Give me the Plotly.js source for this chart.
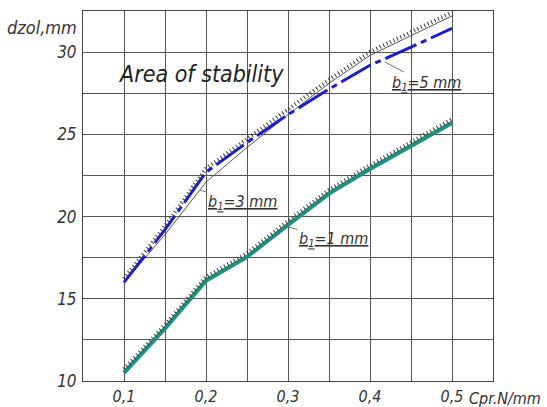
<!DOCTYPE html>
<html>
<head>
<meta charset="utf-8">
<script src="https://cdn.plot.ly/plotly-3.0.1.min.js"></script>
<style>html,body{margin:0;padding:0;background:#fff;}#chart{width:547px;height:407px;}</style>
</head>
<body>
<div id="chart"></div>
<script>
// Data
const cpr = [0.1, 0.15, 0.2, 0.25, 0.3, 0.35, 0.4, 0.45, 0.5];
const dzolB5 = [16.0, 19.2, 22.7, 24.5, 26.2, 27.75, 29.2, 30.3, 31.45];   // b1=5 mm (blue)
const dzolB3 = [16.0, 18.9, 22.1, 24.2, 26.2, 28.1, 29.8, 31.0, 32.2];     // b1=3 mm (thin)
const dzolB1 = [10.5, 13.2, 16.1, 17.55, 19.5, 21.4, 22.9, 24.3, 25.7];    // b1=1 mm (teal)
const upperBoundary = [16.0, 19.2, 22.7, 24.5, 26.3, 28.1, 29.8, 31.0, 32.2];
const xTickVals = [0.1, 0.2, 0.3, 0.4, 0.5];
const yTickVals = [10, 15, 20, 25, 30];

const FONT = "DejaVu Sans Condensed, Liberation Sans Narrow, sans-serif";
const TXT = '#333333';
const yRange = [10, 32.5];
const pxPerUnit = 370 / (yRange[1] - yRange[0]);
const hatchShift = 3.6 / pxPerUnit;

const hatchStyle = {color: '#3a3a3a', width: 4, dash: '1px,2.8px'};

const traces = [
  {x: cpr, y: dzolB3, mode: 'lines', line: {color: '#444', width: 0.9}, hoverinfo: 'skip', name: 'b1=3 mm'},
  {x: cpr, y: dzolB5, mode: 'lines', line: {color: '#1c1cd0', width: 3, dash: '34px,5px,6px,5px'}, hoverinfo: 'skip', name: 'b1=5 mm'},
  {x: cpr, y: dzolB1, mode: 'lines', line: {color: '#1f8f80', width: 4.2}, hoverinfo: 'skip', name: 'b1=1 mm'},
  {x: cpr, y: upperBoundary, yaxis: 'y2', mode: 'lines', line: hatchStyle, hoverinfo: 'skip'},
  {x: cpr, y: dzolB1, yaxis: 'y2', mode: 'lines', line: hatchStyle, hoverinfo: 'skip'}
];

const labelFont = {family: FONT, size: 16, color: TXT, style: 'italic'};

const layout = {
  width: 547, height: 407,
  margin: {l: 83, r: 54, t: 11, b: 26},
  paper_bgcolor: '#fff', plot_bgcolor: '#fff',
  showlegend: false,
  separators: ', ',
  font: {family: FONT, color: TXT, style: 'italic'},
  xaxis: {
    range: [0.05, 0.55], tickvals: xTickVals, tickformat: '.1f',
    showgrid: true, gridcolor: '#555', gridwidth: 1,
    minor: {dtick: 0.05, tick0: 0.05, showgrid: true, gridcolor: '#555', gridwidth: 1},
    showline: true, linecolor: '#444', linewidth: 1, mirror: true,
    ticks: '', ticklabelstandoff: 1,
    tickfont: {family: FONT, size: 16, color: TXT, style: 'italic'},
    zeroline: false, fixedrange: true
  },
  yaxis: {
    range: yRange, tickvals: yTickVals,
    showgrid: true, gridcolor: '#555', gridwidth: 1,
    minor: {dtick: 2.5, tick0: 10, showgrid: true, gridcolor: '#555', gridwidth: 1},
    showline: true, linecolor: '#444', linewidth: 1, mirror: true,
    ticks: '', ticklabelstandoff: 2,
    tickfont: {family: FONT, size: 17, color: TXT, style: 'italic'},
    zeroline: false, fixedrange: true
  },
  yaxis2: {
    overlaying: 'y', range: [yRange[0] - hatchShift, yRange[1] - hatchShift],
    visible: false, showgrid: false, zeroline: false, fixedrange: true
  },
  annotations: [
    {xref: 'paper', yref: 'paper', x: -0.19, y: 0.955, xanchor: 'left', yanchor: 'middle',
     text: 'dzol,mm', showarrow: false, font: {family: FONT, size: 18, color: TXT, style: 'italic'}},
    {xref: 'paper', yref: 'paper', x: 0.937, y: -0.046, xanchor: 'left', yanchor: 'middle',
     text: 'Cpr.N/mm', showarrow: false, font: {family: FONT, size: 16, color: TXT, style: 'italic'}},
    {xref: 'paper', yref: 'paper', x: 0.08, y: 0.83, xanchor: 'left', yanchor: 'middle',
     text: 'Area of stability', showarrow: false, font: {family: FONT, size: 23, color: '#222', style: 'italic'}},
    {x: 0.418, y: 29.4, xref: 'x', yref: 'y', text: '<u>b<sub>1</sub>=5 mm</u>', showarrow: true,
     arrowhead: 0, arrowwidth: 0.8, arrowcolor: '#555', ax: 42, ay: 22, font: labelFont},
    {x: 0.1927, y: 21.6, xref: 'x', yref: 'y', text: '<u>b<sub>1</sub>=3 mm</u>', showarrow: true,
     arrowhead: 0, arrowwidth: 0.8, arrowcolor: '#555', ax: 42, ay: 12, font: labelFont},
    {x: 0.298, y: 19.4, xref: 'x', yref: 'y', text: '<u>b<sub>1</sub>=1 mm</u>', showarrow: true,
     arrowhead: 0, arrowwidth: 0.8, arrowcolor: '#555', ax: 47, ay: 13, font: labelFont}
  ]
};

Plotly.newPlot('chart', traces, layout, {staticPlot: true, displayModeBar: false});
</script>
</body>
</html>
